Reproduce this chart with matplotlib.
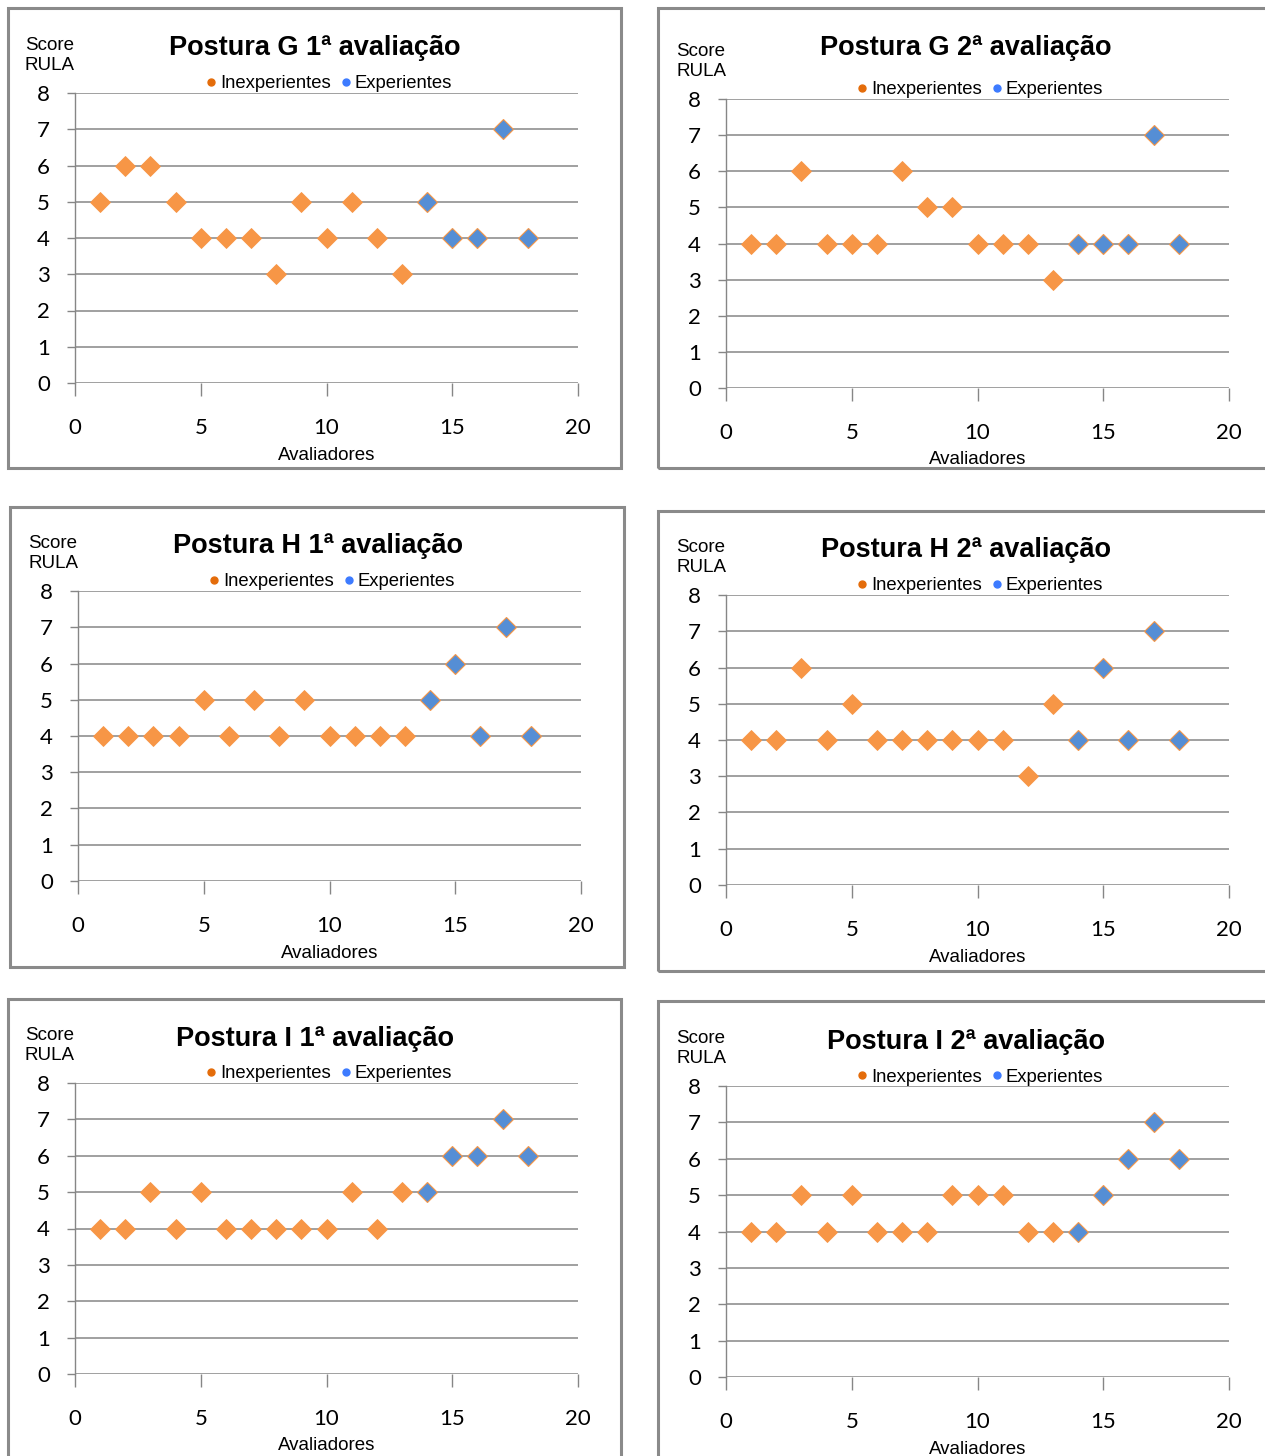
import matplotlib
matplotlib.use("Agg")
import matplotlib.pyplot as plt
from matplotlib.lines import Line2D
from matplotlib.patches import Rectangle

# avaliadores 1-13 inexperientes, 14-18 experientes
x_inexp = [1, 2, 3, 4, 5, 6, 7, 8, 9, 10, 11, 12, 13]
x_exp = [14, 15, 16, 17, 18]

titles = [
    "Postura G 1ª avaliação", "Postura G 2ª avaliação",
    "Postura H 1ª avaliação", "Postura H 2ª avaliação",
    "Postura I 1ª avaliação", "Postura I 2ª avaliação",
]

g1_inexp = [5, 6, 6, 5, 4, 4, 4, 3, 5, 4, 5, 4, 3]
g1_exp = [5, 4, 4, 7, 4]
g2_inexp = [4, 4, 6, 4, 4, 4, 6, 5, 5, 4, 4, 4, 3]
g2_exp = [4, 4, 4, 7, 4]
h1_inexp = [4, 4, 4, 4, 5, 4, 5, 4, 5, 4, 4, 4, 4]
h1_exp = [5, 6, 4, 7, 4]
h2_inexp = [4, 4, 6, 4, 5, 4, 4, 4, 4, 4, 4, 3, 5]
h2_exp = [4, 6, 4, 7, 4]
i1_inexp = [4, 4, 5, 4, 5, 4, 4, 4, 4, 4, 5, 4, 5]
i1_exp = [5, 6, 6, 7, 6]
i2_inexp = [4, 4, 5, 4, 5, 4, 4, 4, 5, 5, 5, 4, 4]
i2_exp = [4, 5, 6, 7, 6]

inexp_series = [g1_inexp, g2_inexp, h1_inexp, h2_inexp, i1_inexp, i2_inexp]
exp_series = [g1_exp, g2_exp, h1_exp, h2_exp, i1_exp, i2_exp]

x_ticks = [0, 5, 10, 15, 20]
y_ticks = [0, 1, 2, 3, 4, 5, 6, 7, 8]

W, H = 1265, 1456

# layout in pixels: frame (l, t, r, b), axes x0, x20, y0 (value 0), y8 (value 8), title y
layout = [
    ((8, 8, 621, 468), 75, 578, 383, 93, 48),
    ((658, 8, 1280, 468), 726, 1229, 388, 99, 48),
    ((10, 507, 624, 967), 78, 581, 881, 591, 546),
    ((658, 511, 1280, 971), 726, 1229, 885, 595, 550),
    ((8, 999, 621, 1470), 75, 578, 1374, 1083, 1039),
    ((658, 1001, 1280, 1470), 726, 1229, 1377, 1086, 1042),
]

ORANGE = "#F79646"
BLUE = "#558ED5"
GRID = "#868686"

fig = plt.figure(figsize=(W / 100, H / 100), dpi=100)


def fx(px):
    return px / W


def fy(py):
    return 1 - py / H


for k in range(6):
    (fl, ft, fr, fb), x0, x20, y0, y8, ty = layout[k]
    fig.patches.append(Rectangle((fx(fl), fy(fb)), fx(fr - fl), (fb - ft) / H,
                                 transform=fig.transFigure, fill=False,
                                 edgecolor="#8a8a8a", linewidth=2.2, zorder=0))

    ax = fig.add_axes([fx(x0), fy(y0), fx(x20 - x0), (y0 - y8) / H])
    ax.set_xlim(0, 20)
    ax.set_ylim(0, 8)
    for v in y_ticks:
        ax.axhline(v, color=GRID, linewidth=1.1, zorder=1)
    for s in ["top", "right", "bottom"]:
        ax.spines[s].set_visible(False)
    ax.spines["left"].set_color(GRID)
    ax.spines["left"].set_linewidth(1.0)
    ax.set_xticks(x_ticks)
    ax.set_yticks(y_ticks)
    ax.tick_params(axis="y", length=6, width=1, color=GRID, pad=12,
                   labelsize=16, labelfontfamily="Lato")
    ax.tick_params(axis="x", length=9, width=1, color=GRID, pad=16,
                   labelsize=16, labelfontfamily="Lato")
    ax.set_facecolor("none")

    ax.plot(x_inexp, inexp_series[k], linestyle="none", marker="D", markersize=10.5,
            color=ORANGE, markeredgecolor=ORANGE, markeredgewidth=0.6,
            clip_on=False, zorder=3)
    ax.plot(x_exp, exp_series[k], linestyle="none", marker="D", markersize=10.5,
            color=BLUE, markeredgecolor=ORANGE, markeredgewidth=0.8,
            clip_on=False, zorder=3)

    fig.text(fx(x0 - 50), fy(y8 - 56), "Score\nRULA", ha="left", va="top",
             fontsize=13.5, family="Liberation Sans", linespacing=1.2)
    fig.text(fx(x0 + 240), fy(ty), titles[k], ha="center", va="center",
             fontsize=19.5, fontweight="bold", family="Liberation Sans")
    fig.text(fx(x0 + 252), fy(y0 + 72), "Avaliadores", ha="center", va="center",
             fontsize=13.5, family="Liberation Sans")

    handles = [
        Line2D([], [], linestyle="none", marker="o", markersize=5, color="#E46C0A"),
        Line2D([], [], linestyle="none", marker="o", markersize=5, color="#3D7BFF"),
    ]
    fig.legend(handles, ["Inexperientes", "Experientes"], ncol=2, frameon=False,
               loc="center", bbox_to_anchor=(fx(x0 + 252), fy(y8 - 9)),
               prop={"family": "Liberation Sans", "size": 13.3},
               handletextpad=0.0, columnspacing=0.3, handlelength=1.0,
               borderpad=0, borderaxespad=0)

fig.savefig("out.png", dpi=100, facecolor="white")
